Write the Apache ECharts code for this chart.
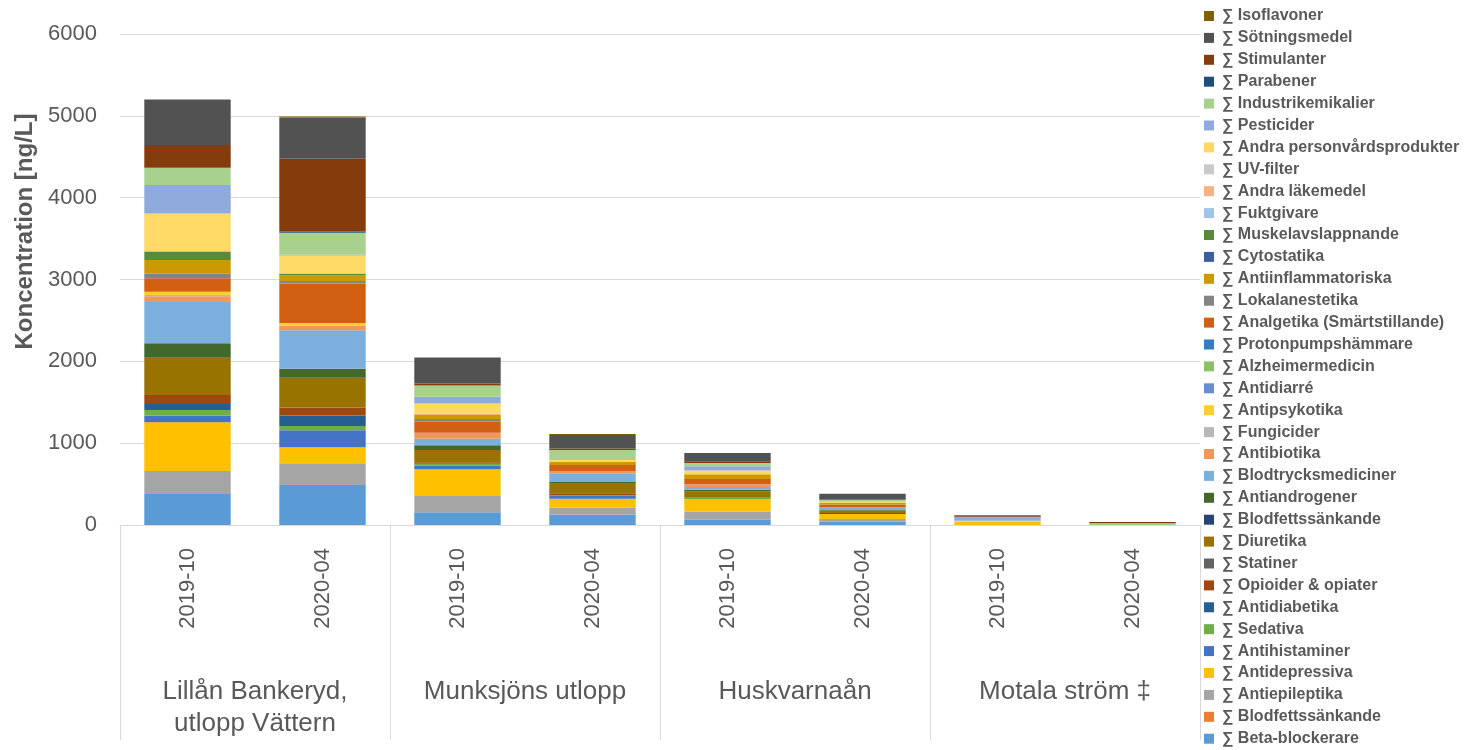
<!DOCTYPE html>
<html>
<head>
<meta charset="utf-8">
<script src="https://cdn.jsdelivr.net/npm/echarts@6/dist/echarts.min.js"></script>
<style>
  html, body { margin: 0; padding: 0; background: #fff; }
  #chart { width: 1470px; height: 750px; }
</style>
</head>
<body>
<div id="chart"></div>
<script>
// bars, left to right
const dates = ['2019-10', '2020-04', '2019-10', '2020-04', '2019-10', '2020-04', '2019-10', '2020-04']
const sites = ['Lillån Bankeryd,\nutlopp Vättern', 'Munksjöns utlopp', 'Huskvarnaån', 'Motala ström ‡']
const yTicks = { min: 0, max: 6000, step: 1000 }

// stack order, bottom first
const names = [
  '∑ Beta-blockerare', '∑ Blodfettssänkande', '∑ Antiepileptika', '∑ Antidepressiva',
  '∑ Antihistaminer', '∑ Sedativa', '∑ Antidiabetika', '∑ Opioider & opiater', '∑ Statiner',
  '∑ Diuretika', '∑ Blodfettssänkande\u200b', '∑ Antiandrogener', '∑ Blodtrycksmediciner',
  '∑ Antibiotika', '∑ Fungicider', '∑ Antipsykotika', '∑ Antidiarré', '∑ Alzheimermedicin',
  '∑ Protonpumpshämmare', '∑ Analgetika (Smärtstillande)', '∑ Lokalanestetika',
  '∑ Antiinflammatoriska', '∑ Cytostatika', '∑ Muskelavslappnande', '∑ Fuktgivare',
  '∑ Andra läkemedel', '∑ UV-filter', '∑ Andra personvårdsprodukter', '∑ Pesticider',
  '∑ Industrikemikalier', '∑ Parabener', '∑ Stimulanter', '∑ Sötningsmedel', '∑ Isoflavoner'
]

const colors = [
  '#5B9BD5', '#ED7D31', '#A5A5A5', '#FFC000',
  '#4472C4', '#70AD47', '#255E91', '#9E480E', '#636363',
  '#997300', '#264478', '#43682B', '#7CAFDD',
  '#F1975A', '#B7B7B7', '#FFCD33', '#698ED0', '#8CC168',
  '#327DC2', '#D26012', '#848484',
  '#CC9A00', '#3A5FA0', '#5A8A39', '#A2C4E6',
  '#F4B183', '#C9C9C9', '#FFD966', '#8FAADC',
  '#A9D18E', '#1F4E79', '#843C0C', '#525252', '#7F6000'
]

// ng/L per bar
const betaBlockerare      = [379, 489, 155, 126, 65, 41, 0, 0]
const blodfett1           = [0, 0, 0, 0, 0, 0, 0, 0]
const antiepileptika      = [281, 265, 200, 86, 98, 33, 0, 0]
const antidepressiva      = [595, 196, 326, 110, 151, 61, 37, 0]
const antihistaminer      = [81, 208, 45, 37, 0, 0, 0, 0]
const sedativa            = [69, 53, 24, 4, 29, 0, 0, 0]
const antidiabetika       = [73, 126, 0, 4, 0, 0, 0, 0]
const opioider            = [110, 98, 16, 20, 0, 12, 0, 0]
const statiner            = [0, 0, 0, 0, 0, 0, 0, 0]
const diuretika           = [456, 363, 151, 118, 69, 29, 0, 0]
const blodfett2           = [0, 0, 0, 0, 0, 0, 0, 0]
const antiandrogener      = [176, 110, 57, 20, 20, 12, 0, 0]
const blodtryck           = [505, 473, 81, 106, 33, 20, 0, 0]
const antibiotika         = [69, 57, 73, 29, 33, 12, 0, 0]
const fungicider          = [16, 0, 0, 0, 0, 0, 0, 0]
const antipsykotika       = [41, 29, 0, 0, 0, 0, 0, 0]
const antidiarre          = [0, 0, 0, 0, 0, 0, 0, 0]
const alzheimer           = [0, 0, 0, 0, 0, 0, 0, 0]
const protonpump          = [0, 0, 0, 0, 0, 0, 0, 0]
const analgetika          = [163, 485, 134, 73, 65, 29, 0, 0]
const lokalanestetika     = [57, 29, 33, 0, 0, 0, 0, 0]
const antiinflammatoriska = [167, 69, 49, 37, 57, 20, 0, 0]
const cytostatika         = [0, 0, 0, 0, 0, 0, 0, 0]
const muskelavslappnande  = [98, 20, 0, 0, 0, 0, 0, 0]
const fuktgivare          = [0, 0, 0, 0, 0, 0, 0, 0]
const andraLakemedel      = [12, 0, 20, 0, 0, 0, 0, 0]
const uvFilter            = [0, 10, 0, 0, 0, 0, 0, 0]
const andraPersonvard     = [460, 212, 122, 24, 45, 16, 16, 0]
const pesticider          = [346, 10, 81, 0, 53, 0, 49, 0]
const industrikemikalier  = [212, 269, 138, 122, 41, 24, 0, 20]
const parabener           = [0, 16, 0, 0, 0, 0, 0, 0]
const stimulanter         = [277, 888, 24, 20, 20, 0, 16, 16]
const sotningsmedel       = [558, 505, 318, 163, 102, 73, 0, 0]
const isoflavoner         = [0, 12, 0, 12, 0, 0, 0, 0]

const values = [
  betaBlockerare, blodfett1, antiepileptika, antidepressiva, antihistaminer, sedativa,
  antidiabetika, opioider, statiner, diuretika, blodfett2, antiandrogener, blodtryck,
  antibiotika, fungicider, antipsykotika, antidiarre, alzheimer, protonpump, analgetika,
  lokalanestetika, antiinflammatoriska, cytostatika, muskelavslappnande, fuktgivare,
  andraLakemedel, uvFilter, andraPersonvard, pesticider, industrikemikalier, parabener,
  stimulanter, sotningsmedel, isoflavoner
]

const font = '"Liberation Sans", Arial, sans-serif'
const grey = '#595959'
const lineGrey = '#D9D9D9'

const chart = echarts.init(document.getElementById('chart'))

const option = {
  backgroundColor: '#fff',
  animation: false,
  textStyle: { fontFamily: font },
  grid: { left: 120, right: 270, top: 34, bottom: 225 },
  legend: {
    orient: 'vertical',
    left: 1204,
    top: 8,
    padding: 0,
    icon: 'rect',
    itemWidth: 10,
    itemHeight: 10,
    itemGap: 5.9,
    selectedMode: false,
    data: names.slice().reverse(),
    textStyle: { fontFamily: font, fontSize: 16, fontWeight: 'bold', color: grey, lineHeight: 16, padding: [0, 0, 0, 3] }
  },
  xAxis: [
    {
      type: 'category',
      data: dates,
      axisLine: { lineStyle: { color: lineGrey } },
      axisTick: { show: false },
      axisLabel: { rotate: 90, fontSize: 22, color: grey, margin: 23, fontFamily: font }
    },
    {
      type: 'category',
      data: sites,
      position: 'bottom',
      axisLine: { show: false },
      axisTick: { show: true, length: 215, lineStyle: { color: lineGrey } },
      axisLabel: { fontSize: 26, color: grey, margin: 151, lineHeight: 32, fontFamily: font }
    }
  ],
  yAxis: {
    type: 'value',
    min: yTicks.min,
    max: yTicks.max,
    interval: yTicks.step,
    name: 'Koncentration [ng/L]',
    nameLocation: 'middle',
    nameGap: 70,
    nameTextStyle: { fontSize: 24, fontWeight: 'bold', color: grey, fontFamily: font, padding: [0, 0, 0, 96] },
    axisLine: { show: false },
    axisTick: { show: false },
    axisLabel: { fontSize: 22, color: grey, margin: 23, fontFamily: font, formatter: v => String(v) },
    splitLine: { lineStyle: { color: lineGrey } }
  },
  series: names.map((name, i) => ({
    name,
    type: 'bar',
    stack: 'total',
    barWidth: '64%',
    xAxisIndex: 0,
    data: values[i],
    itemStyle: { color: colors[i] }
  }))
}

chart.setOption(option)
</script>
</body>
</html>
